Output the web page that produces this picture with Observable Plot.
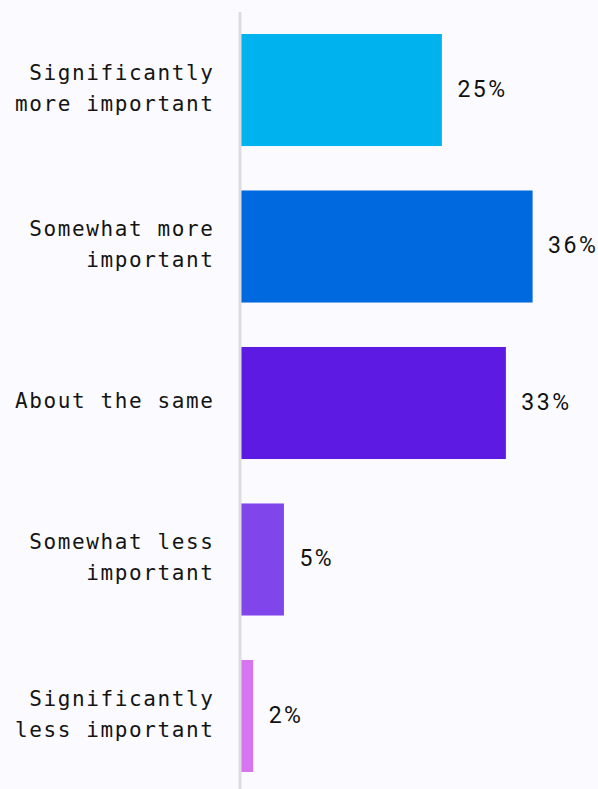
<!DOCTYPE html>
<html>
<head>
<meta charset="utf-8">
<script src="https://cdn.jsdelivr.net/npm/d3@7"></script>
<script src="https://cdn.jsdelivr.net/npm/@observablehq/plot@0.6"></script>
<style>
  html, body { margin: 0; padding: 0; background: #fbfbff; }
  #chart svg { display: block; background: #fbfbff; }
  #chart g[font-family="DejaVu Sans Mono"] text { letter-spacing: 1.6px; }
  #chart g[font-family="Roboto"] text { letter-spacing: 2.5px; }
</style>
</head>
<body>
<div id="chart"></div>
<script>
const categories = [
  "Significantly\nmore important",
  "Somewhat more\nimportant",
  "About the same",
  "Somewhat less\nimportant",
  "Significantly\nless important"
];
const values = [24.8, 36.0, 32.7, 5.3, 1.5];
const valueLabels = ["25%", "36%", "33%", "5%", "2%"];
const colors = ["#00b3ee", "#0069df", "#5c1ae3", "#8045eb", "#d775f0"];

const data = categories.map((c, i) => ({cat: c, value: values[i], label: valueLabels[i], color: colors[i]}));

const chart = Plot.plot({
  width: 598,
  height: 789,
  marginTop: 12,
  marginBottom: 0,
  marginLeft: 241,
  marginRight: 33,
  style: {background: "#fbfbff"},
  x: {domain: [0, 40], axis: null},
  y: {domain: categories, range: [16, 790], round: false, paddingInner: 0.284, paddingOuter: 0.115, axis: null},
  color: {type: "identity"},
  marks: [
    Plot.barX(data, {x: "value", y: "cat", fill: "color"}),
    Plot.ruleX([0], {stroke: "#dddde0", strokeWidth: 3, dx: -1.5}),
    Plot.text(data, {
      x: 0, y: "cat", text: "cat", textAnchor: "end", dx: -27, dy: -5,
      lineHeight: 1.48, fontSize: 21, fontFamily: "DejaVu Sans Mono", fill: "#141414"
    }),
    Plot.text(data, {
      x: "value", y: "cat", text: "label", textAnchor: "start", dx: 15, dy: -1,
      fontSize: 23, fontFamily: "Roboto", fill: "#111"
    })
  ]
});
document.getElementById("chart").appendChild(chart);
</script>
</body>
</html>
